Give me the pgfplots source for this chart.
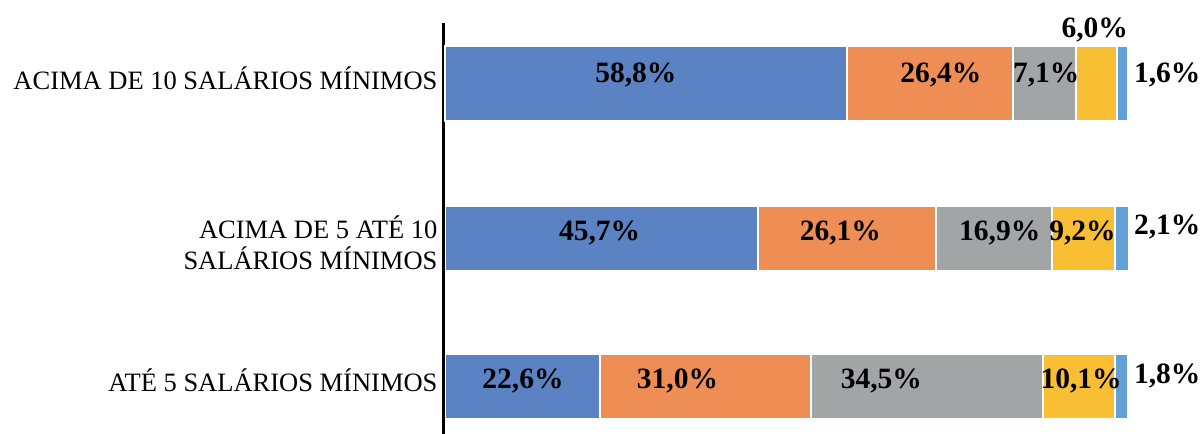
\documentclass[border=0pt]{standalone}
\usepackage{fontspec}
\setmainfont{Liberation Serif}
\usepackage{pgfplots}
\pgfplotsset{compat=1.18}

\definecolor{c1}{HTML}{5B83C3}
\definecolor{c2}{HTML}{EE8E55}
\definecolor{c3}{HTML}{A2A5A6}
\definecolor{c4}{HTML}{F8BF35}
\definecolor{c5}{HTML}{62A0D5}

% one pt per pixel of the reference
\pgfplotsset{
  base/.style={scale only axis, width=685.3pt, height=410.7pt,
    xmin=-0.19, xmax=100, ymin=0, ymax=410.7, clip=false},
  seg/.style={fill=#1, draw=white, line width=2pt},
}

\begin{document}
\begin{tikzpicture}
% middle and bottom bars, axis line and category names
\begin{axis}[base, xbar stacked, bar width=65, axis on top,
  axis x line=none, axis y line=left,
  axis line style={-, black, line width=2.7pt},
  xtick=\empty,
  ytick={42.3,164,344},
  yticklabels={ATÉ 5 SALÁRIOS MÍNIMOS,{ACIMA DE 5 ATÉ 10\\SALÁRIOS MÍNIMOS},ACIMA DE 10 SALÁRIOS MÍNIMOS},
  major tick length=0pt,
  yticklabel style={anchor=base east, align=right, inner sep=0pt, xshift=-6pt,
    font=\fontsize{26.5}{31.7}\selectfont},
]
\addplot[seg=c1] coordinates {(22.6,47) (45.7,195.7)};
\addplot[seg=c2] coordinates {(30.9,47) (26.1,195.7)};
\addplot[seg=c3] coordinates {(33.9,47) (16.9,195.7)};
\addplot[seg=c4] coordinates {(10.6,47) (9.2,195.7)};
\addplot[seg=c5] coordinates {(1.8,47) (2.1,195.7)};
\end{axis}

% top bar is drawn thicker
\begin{axis}[base, hide axis, xbar stacked, bar width=75.3]
\addplot[seg=c1] coordinates {(58.8,350.7)};
\addplot[seg=c2] coordinates {(24.2,350.7)};
\addplot[seg=c3] coordinates {(9.3,350.7)};
\addplot[seg=c4] coordinates {(6.0,350.7)};
\addplot[seg=c5] coordinates {(1.6,350.7)};
\end{axis}

% value labels
\begin{axis}[base, hide axis]
\addplot[only marks, mark=*, mark size=0pt, mark options={draw=none, fill=none},
  nodes near coords={\pgfplotspointmeta\%}, point meta=explicit symbolic,
  nodes near coords style={anchor=base, inner sep=0pt,
    font=\fontsize{29.5}{30}\selectfont\bfseries}]
  table[meta=t] {
x y t
27.9 351 58,8
72.5 351 26,4
87.9 351 7,1
95.0 396.5 6,0
105.6 351 1,6
22.6 193.5 45,7
57.8 193.5 26,1
81.1 193.5 16,9
93.2 193.5 9,2
105.6 199 2,1
11.4 45 22,6
34.0 45 31,0
63.8 45 34,5
93.0 45 10,1
105.6 50.7 1,8
};
\end{axis}

\pgfresetboundingbox
\path[use as bounding box] (-443.7pt,0pt) rectangle (759.3pt,434pt);
\end{tikzpicture}
\end{document}
